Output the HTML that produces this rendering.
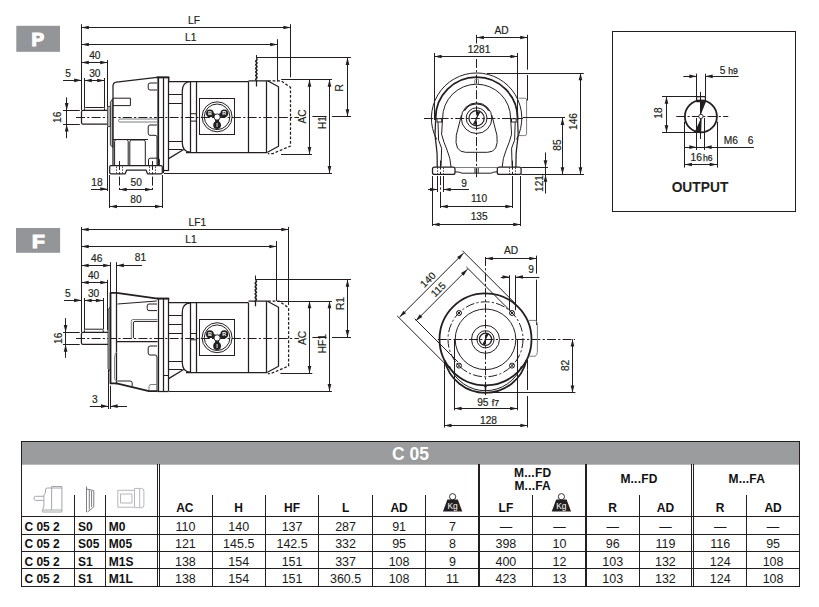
<!DOCTYPE html>
<html lang="en"><head><meta charset="utf-8"><title>C 05 dimensions</title>
<style>
html,body{margin:0;padding:0;background:#fff;}
body{width:819px;height:607px;overflow:hidden;position:relative;font-family:"Liberation Sans",sans-serif;}
svg{position:absolute;left:0;top:0;display:block;}
.t{stroke:#231f20;stroke-width:1;fill:none;}
.o{stroke:#231f20;stroke-width:1.25;fill:none;stroke-linejoin:round;}
.k{stroke:#231f20;stroke-width:1.8;fill:none;stroke-linejoin:round;}
.g{stroke:#7b7d80;stroke-width:1;fill:none;}
.gl{stroke:#b5b7b9;stroke-width:1;fill:none;}
.c{stroke:#231f20;stroke-width:1;fill:none;stroke-dasharray:9 2.2 2.2 2.2;}
.h{stroke:#231f20;stroke-width:1.25;fill:none;stroke-dasharray:2.8 1.8;}
.w{stroke:#231f20;stroke-width:1.6;fill:none;}
.hs{stroke:#231f20;stroke-width:.8;fill:none;stroke-dasharray:1.6 1.2;}
.ar{fill:#231f20;stroke:none;}
.bk{fill:#231f20;stroke:none;}
.wf{fill:#fff;stroke:#231f20;stroke-width:.9;}
.gf{fill:#b9bbbd;stroke:#231f20;stroke-width:.8;}
text{font-family:"Liberation Sans",sans-serif;fill:#231f20;}
.d{font-size:10.2px;stroke:#231f20;stroke-width:.18;}
.ds{font-size:8.6px;stroke:#231f20;stroke-width:.25;}
.lab{font-size:18px;font-weight:bold;fill:#fff;stroke:#fff;stroke-width:1.2;stroke-linejoin:miter;}
.outp{font-size:13.8px;font-weight:bold;fill:#231f20;}
.tb{font-size:12px;font-weight:bold;fill:#111;}
.tr{font-size:12.5px;fill:#1a1a1a;}
.g2{stroke:#9a9c9e;stroke-width:.9;fill:none;}
.g3{stroke:#6d6e70;stroke-width:.9;fill:none;}
.ttl{font-size:17.5px;font-weight:bold;fill:#fff;}
.kg{font-size:8.4px;fill:#fff;}
.sp{letter-spacing:.2px;}
.wl{font-size:5.4px;fill:#fff;font-weight:bold;}
</style></head>
<body>
<svg width="819" height="607" viewBox="0 0 819 607">
<!-- ===== P version: side view ===== -->
<g id="p-side">
<rect x="16.3" y="25.8" width="43.7" height="26" fill="#939598"/>
<text class="lab" text-anchor="middle" transform="translate(37.8 45.7) scale(1.05 1)">P</text>
<line class="t" x1="81.50" y1="24.20" x2="81.50" y2="110.00"/>
<line class="t" x1="81.50" y1="27.50" x2="290.70" y2="27.50"/>
<polygon class="ar" points="81.50,27.50 88.80,25.65 88.80,29.35"/>
<polygon class="ar" points="290.70,27.50 283.40,29.35 283.40,25.65"/>
<text class="d" x="194" y="23.8" text-anchor="middle">LF</text>
<line class="t" x1="81.50" y1="44.50" x2="277.50" y2="44.50"/>
<polygon class="ar" points="81.50,44.50 88.80,42.65 88.80,46.35"/>
<polygon class="ar" points="277.50,44.50 270.20,46.35 270.20,42.65"/>
<text class="d" x="190.7" y="40.9" text-anchor="middle">L1</text>
<line class="t" x1="290.50" y1="24.20" x2="290.50" y2="77.30"/>
<line class="t" x1="277.50" y1="39.20" x2="277.50" y2="81.50"/>
<line class="t" x1="81.50" y1="62.50" x2="107.50" y2="62.50"/>
<polygon class="ar" points="81.50,62.50 88.80,60.65 88.80,64.35"/>
<polygon class="ar" points="107.50,62.50 100.20,64.35 100.20,60.65"/>
<text class="d" x="94.8" y="58.8" text-anchor="middle">40</text>
<line class="t" x1="107.50" y1="60.00" x2="107.50" y2="107.00"/>
<line class="t" x1="63.00" y1="80.50" x2="81.50" y2="80.50"/>
<polygon class="ar" points="81.50,80.30 74.20,82.15 74.20,78.45"/>
<line class="t" x1="84.50" y1="80.50" x2="104.50" y2="80.50"/>
<polygon class="ar" points="84.50,80.50 91.80,78.65 91.80,82.35"/>
<polygon class="ar" points="104.50,80.50 97.20,82.35 97.20,78.65"/>
<text class="d" x="94.8" y="76.6" text-anchor="middle">30</text>
<text class="d" x="68" y="76.6" text-anchor="middle">5</text>
<line class="t" x1="84.50" y1="78.00" x2="84.50" y2="107.80"/>
<line class="t" x1="104.50" y1="78.00" x2="104.50" y2="107.80"/>
<line class="t" x1="63.00" y1="110.50" x2="79.80" y2="110.50"/>
<line class="t" x1="63.00" y1="124.50" x2="79.80" y2="124.50"/>
<line class="t" x1="66.50" y1="97.40" x2="66.50" y2="138.20"/>
<polygon class="ar" points="66.70,110.40 64.85,103.10 68.55,103.10"/>
<polygon class="ar" points="66.70,124.20 68.55,131.50 64.85,131.50"/>
<text class="d" x="60.6" y="117.3" text-anchor="middle" transform="rotate(-90 60.6 117.3)">16</text>
<line class="c" x1="76.00" y1="117.50" x2="299.00" y2="117.50"/>
<path class="o" d="M107.5,110.4 H83 Q81.5,110.4 81.5,112 V122.6 Q81.5,124.2 83,124.2 H107.5"/>
<path class="t" d="M84.5,110.4 V108.5 Q84.5,107.5 85.5,107.5 H103.5 Q104.5,107.5 104.5,108.5 V110.4"/>
<path class="gf" d="M107.6,106.4 H110.6 V126.6 H107.6 Z"/>
<path class="gf" d="M110.4,102 L112.8,98.5 V147.5 L110.4,145 Z"/>
<path class="o" d="M113,165.6 V86 Q113,82.6 116.5,82.2 L157,77.4 H168.7 V81.5"/>
<line class="g" x1="157.50" y1="77.40" x2="157.50" y2="165.60"/>
<line class="o" x1="158.50" y1="77.40" x2="158.50" y2="165.60"/>
<line class="o" x1="163.50" y1="77.20" x2="163.50" y2="173.00"/>
<line class="o" x1="168.50" y1="77.20" x2="168.50" y2="170.80"/>
<line class="o" x1="163.60" y1="170.50" x2="168.70" y2="170.50"/>
<line x1="156.6" y1="77.4" x2="169.3" y2="77.4" stroke="#231f20" stroke-width="1.9"/>
<path class="t" d="M157,83 H150 Q148.2,83 148.2,85 V88 Q148.2,90 150,90 H157"/>
<path class="t" d="M113,98.2 H130.4 V105.6 H113"/>
<path class="g" d="M157,119 H120 Q118.5,119 118.5,120.5 Q118.5,122 120,122 H157"/>
<path class="t" d="M157,125 H150 Q148.2,125 148.2,127 V133.3 Q148.2,135.3 150,135.3 H155 Q157,135.3 157,137 V165"/>
<line class="t" x1="113.00" y1="139.50" x2="148.00" y2="139.50"/>
<path class="t" d="M114.6,165.6 V141.5 Q114.6,139.6 116.5,139.6 H126.2 Q128.2,139.6 128.2,141.5 V165.6"/>
<path class="t" d="M129.8,165.6 V142 Q129.8,140 131.8,140 H143.3 Q145.3,140 145.3,142 V165.6"/>
<path class="t" d="M148.5,165.6 V160 Q148.5,158.2 150.3,158.2 H157.6 Q159.4,158.2 159.4,160 V165.6"/>
<path class="o" d="M109.7,167 Q109.7,165.6 111,165.6 H161 Q162.3,165.6 162.3,167 V172.5 Q162.3,173.8 161,173.8 H147.5 L146,170 H126.7 L125.2,173.8 H111 Q109.7,173.8 109.7,172.5 Z"/>
<line class="c" x1="119.50" y1="161.00" x2="119.50" y2="190.50"/>
<line class="hs" x1="116.50" y1="166.50" x2="116.50" y2="173.20"/>
<line class="hs" x1="122.50" y1="166.50" x2="122.50" y2="173.20"/>
<line class="c" x1="152.50" y1="161.00" x2="152.50" y2="190.50"/>
<line class="hs" x1="149.50" y1="166.50" x2="149.50" y2="173.20"/>
<line class="hs" x1="155.50" y1="166.50" x2="155.50" y2="173.20"/>
<line class="t" x1="107.50" y1="127.00" x2="107.50" y2="191.00"/>
<line class="t" x1="91.00" y1="189.50" x2="107.50" y2="189.50"/>
<polygon class="ar" points="107.50,189.00 100.20,190.85 100.20,187.15"/>
<line class="t" x1="119.30" y1="189.50" x2="152.40" y2="189.50"/>
<polygon class="ar" points="119.30,189.50 126.60,187.65 126.60,191.35"/>
<polygon class="ar" points="152.40,189.50 145.10,191.35 145.10,187.65"/>
<text class="d" x="97" y="186" text-anchor="middle">18</text>
<text class="d" x="136.2" y="186" text-anchor="middle">50</text>
<line class="t" x1="109.50" y1="175.00" x2="109.50" y2="208.00"/>
<line class="t" x1="162.50" y1="175.00" x2="162.50" y2="208.00"/>
<line class="t" x1="109.70" y1="206.50" x2="162.30" y2="206.50"/>
<polygon class="ar" points="109.70,206.50 117.00,204.65 117.00,208.35"/>
<polygon class="ar" points="162.30,206.50 155.00,208.35 155.00,204.65"/>
<text class="d" x="136" y="203.1" text-anchor="middle">80</text>
<line class="o" x1="168.70" y1="81.50" x2="248.50" y2="81.50"/>
<line class="o" x1="186.00" y1="152.50" x2="267.50" y2="152.50"/>
<line class="t" x1="168.70" y1="94.50" x2="182.00" y2="94.50"/>
<line class="t" x1="168.70" y1="103.50" x2="182.00" y2="103.50"/>
<line class="t" x1="168.70" y1="141.50" x2="182.00" y2="141.50"/>
<line class="t" x1="168.70" y1="149.50" x2="182.00" y2="149.50"/>
<path class="o" d="M190.5,81.5 Q182.3,82.0 182.3,91.0 V142.7 Q182.3,151.7 190.5,152.2"/>
<line class="o" x1="190.50" y1="81.50" x2="190.50" y2="152.20"/>
<line class="o" x1="196.50" y1="81.50" x2="196.50" y2="152.20"/>
<rect class="t" x="190.5" y="113.7" width="5.9" height="7.4"/>
<rect class="t" x="199.5" y="98.5" width="35" height="36"/>
<circle class="t" cx="217.1" cy="116.8" r="15"/>
<circle class="t" cx="217.1" cy="116.8" r="12.8"/>
<line x1="217.1" y1="117.0" x2="209.9" y2="113.3" stroke="#231f20" stroke-width="4"/>
<circle class="bk" cx="209.9" cy="113.3" r="3.9"/>
<text class="wl" x="209.9" y="115.2" text-anchor="middle">B</text>
<line x1="217.1" y1="117.0" x2="224.3" y2="113.3" stroke="#231f20" stroke-width="4"/>
<circle class="bk" cx="224.3" cy="113.3" r="3.9"/>
<text class="wl" x="224.3" y="115.2" text-anchor="middle">R</text>
<line x1="217.1" y1="117.0" x2="217.1" y2="125.1" stroke="#231f20" stroke-width="4"/>
<circle class="bk" cx="217.1" cy="125.1" r="3.9"/>
<text class="wl" x="217.1" y="127.0" text-anchor="middle">I</text>
<circle class="wf" cx="217.1" cy="117.0" r="3.1"/>
<line class="o" x1="168.70" y1="158.60" x2="184.00" y2="149.20"/>
<line class="o" x1="248.50" y1="81.50" x2="248.50" y2="152.20"/>
<path class="o" d="M248.5,80.8 H267.5 L278.5,86.8 V146.2 L267.5,152.2"/>
<line class="o" x1="266.50" y1="80.80" x2="266.50" y2="152.20"/>
<path class="h" d="M268,80.8 H281.0 L290.5,87.39999999999999 V146.0 L273.0,153.5 H268"/>
<line class="t" x1="256.50" y1="55.00" x2="256.50" y2="58.50"/>
<path class="w" d="M256.4,58.5 q1.2,0.9 0,1.8 q-1.2,0.9 0,1.8 q1.2,0.9 0,1.8 q-1.2,0.9 0,1.8 q1.2,0.9 0,1.8 q-1.2,0.9 0,1.8 q1.2,0.9 0,1.8 q-1.2,0.9 0,1.8 q1.2,0.9 0,1.8 q-1.2,0.9 0,1.8 q1.2,0.9 0,1.8 q-1.2,0.9 0,1.8"/>
<line class="o" x1="256.50" y1="80.00" x2="256.50" y2="86.50"/>
<line class="t" x1="256.40" y1="57.50" x2="351.00" y2="57.50"/>
<line class="t" x1="281.20" y1="79.50" x2="332.00" y2="79.50"/>
<line class="t" x1="281.00" y1="154.50" x2="312.00" y2="154.50"/>
<line class="t" x1="309.50" y1="79.50" x2="309.50" y2="154.30"/>
<polygon class="ar" points="309.50,79.50 311.35,86.80 307.65,86.80"/>
<polygon class="ar" points="309.50,154.30 307.65,147.00 311.35,147.00"/>
<text class="d" x="305.8" y="116.5" text-anchor="middle" transform="rotate(-90 305.8 116.5)">AC</text>
<line class="t" x1="164.00" y1="173.50" x2="332.00" y2="173.50"/>
<line class="t" x1="329.50" y1="79.50" x2="329.50" y2="173.20"/>
<polygon class="ar" points="329.50,79.50 331.35,86.80 327.65,86.80"/>
<polygon class="ar" points="329.50,173.20 327.65,165.90 331.35,165.90"/>
<text class="d" x="326" y="122.5" text-anchor="middle" transform="rotate(-90 326 122.5)">H1</text>
<line class="t" x1="312.40" y1="116.50" x2="326.50" y2="116.50"/>
<line class="t" x1="332.00" y1="116.50" x2="351.00" y2="116.50"/>
<line class="t" x1="347.50" y1="57.60" x2="347.50" y2="116.50"/>
<polygon class="ar" points="347.50,57.60 349.35,64.90 345.65,64.90"/>
<polygon class="ar" points="347.50,116.50 345.65,109.20 349.35,109.20"/>
<text class="d" x="343.3" y="87.7" text-anchor="middle" transform="rotate(-90 343.3 87.7)">R</text>
</g>
<!-- ===== P version: front view ===== -->
<g id="p-front">
<line class="t" x1="476.50" y1="34.80" x2="476.50" y2="43.50"/>
<line class="c" x1="476.50" y1="59.00" x2="476.50" y2="178.00"/>
<line class="c" x1="424.00" y1="118.50" x2="523.00" y2="118.50"/>
<line class="t" x1="476.60" y1="37.50" x2="527.50" y2="37.50"/>
<polygon class="ar" points="476.60,37.50 483.90,35.65 483.90,39.35"/>
<polygon class="ar" points="527.50,37.50 520.20,39.35 520.20,35.65"/>
<text class="d" x="501.5" y="33.6" text-anchor="middle">AD</text>
<line class="t" x1="527.50" y1="34.80" x2="527.50" y2="69.70"/>
<line class="t" x1="527.50" y1="75.00" x2="527.50" y2="100.50"/>
<line class="t" x1="434.30" y1="56.50" x2="517.70" y2="56.50"/>
<polygon class="ar" points="434.30,56.50 441.60,54.65 441.60,58.35"/>
<polygon class="ar" points="517.70,56.50 510.40,58.35 510.40,54.65"/>
<text class="d" x="479" y="52.6" text-anchor="middle">1281</text>
<line class="t" x1="434.50" y1="53.00" x2="434.50" y2="120.00"/>
<line class="t" x1="517.50" y1="53.00" x2="517.50" y2="120.00"/>
<path class="t" d="M516.5,139.4 A45.2,45.2 0 1 0 436.7,139.4"/>
<path class="k" d="M517.6,120.2 V118.2 A41,41 0 1 0 435.6,118.2 V120.2"/>
<path class="o" d="M435.6,120.2 L435.0,135.2 Q436.6,148.2 437.1,154.2 L437.3,167.2"/>
<path class="o" d="M517.6,120.2 L518.2,135.2 Q516.6,148.2 516.1,154.2 L515.9,167.2"/>
<path class="t" d="M510.6,118.2 A34,34 0 1 0 442.6,118.2"/>
<path class="t" d="M442.6,118.2 L441.6,134.2 Q443.6,142.2 447.1,150.2 Q450.6,158.2 451.0,167.0"/>
<path class="t" d="M510.6,118.2 L511.6,134.2 Q509.6,142.2 506.1,150.2 Q502.6,158.2 502.20000000000005,167.0"/>
<path class="t" d="M438.0,122.2 L438.6,140.2 L441.6,148.2 L441.1,166.2"/>
<path class="t" d="M515.2,122.2 L514.6,140.2 L511.6,148.2 L512.1,166.2"/>
<rect class="t" x="437.0" y="118.7" width="4.7" height="3.3"/>
<rect class="t" x="511.5" y="118.7" width="4.7" height="3.3"/>
<path class="g" d="M474.8,84.4 V80.2 Q474.8,79.2 475.8,79.2 H477.5 Q478.5,79.2 478.5,80.2 V84.4"/>
<path class="t" d="M461.40000000000003,115.2 L456.3,135.2 Q454.1,152.2 465.6,152.3 H487.6 Q499.1,152.2 496.90000000000003,135.2 L491.8,115.2"/>
<circle class="t" cx="476.6" cy="118.2" r="15.3"/>
<path class="o" d="M464.40000000000003,110.60000000000001 A14.4,14.4 0 0 1 488.8,110.60000000000001"/>
<circle class="t" cx="476.6" cy="118.2" r="10.4"/>
<circle class="o" cx="476.6" cy="118.2" r="7.6"/>
<path class="bk" d="M476.6,118.2 L479.8,112.10000000000001 L476.8,111.3 Z"/>
<path class="bk" d="M476.6,118.2 L473.40000000000003,124.3 L476.40000000000003,125.10000000000001 Z"/>
<line class="t" x1="473.20" y1="124.60" x2="480.00" y2="111.80"/>
<path class="g" d="M518.5,98.2 H524.8 Q526.6,98.2 526.6,100 V133.8 Q526.6,135.6 524.8,135.6 H519"/>
<rect class="o" x="432.5" y="167" width="22.5" height="7.4" rx="2" ry="2"/>
<rect class="o" x="497.3" y="167" width="23.8" height="7.4" rx="2" ry="2"/>
<line class="g" x1="455.00" y1="167.50" x2="497.30" y2="167.50"/>
<path class="t" d="M455,171.8 Q459.5,171.8 462,173.2 H491 Q493.5,171.8 497.3,171.8"/>
<path class="t" d="M475.0,168 V173 M478.20000000000005,168 V173"/>
<line class="c" x1="440.50" y1="160.60" x2="440.50" y2="206.30"/>
<line class="hs" x1="437.50" y1="167.50" x2="437.50" y2="174.00"/>
<line class="hs" x1="443.50" y1="167.50" x2="443.50" y2="174.00"/>
<line class="c" x1="512.50" y1="160.60" x2="512.50" y2="206.30"/>
<line class="hs" x1="509.50" y1="167.50" x2="509.50" y2="174.00"/>
<line class="hs" x1="515.50" y1="167.50" x2="515.50" y2="174.00"/>
<line class="t" x1="437.50" y1="176.00" x2="437.50" y2="192.00"/>
<line class="t" x1="443.50" y1="176.00" x2="443.50" y2="192.00"/>
<line class="t" x1="428.00" y1="189.50" x2="437.40" y2="189.50"/>
<polygon class="ar" points="437.40,189.50 430.10,191.35 430.10,187.65"/>
<line class="t" x1="443.40" y1="189.50" x2="469.00" y2="189.50"/>
<polygon class="ar" points="443.40,189.50 450.70,187.65 450.70,191.35"/>
<text class="d" x="464" y="186.6" text-anchor="middle">9</text>
<line class="t" x1="440.50" y1="206.50" x2="512.60" y2="206.50"/>
<polygon class="ar" points="440.50,206.50 447.80,204.65 447.80,208.35"/>
<polygon class="ar" points="512.60,206.50 505.30,208.35 505.30,204.65"/>
<text class="d" x="479" y="201.7" text-anchor="middle">110</text>
<line class="t" x1="440.50" y1="192.00" x2="440.50" y2="208.00"/>
<line class="t" x1="512.50" y1="176.00" x2="512.50" y2="208.00"/>
<line class="t" x1="432.50" y1="176.00" x2="432.50" y2="226.00"/>
<line class="t" x1="520.50" y1="176.00" x2="520.50" y2="226.00"/>
<line class="t" x1="432.30" y1="224.50" x2="520.50" y2="224.50"/>
<polygon class="ar" points="432.30,224.50 439.60,222.65 439.60,226.35"/>
<polygon class="ar" points="520.50,224.50 513.20,226.35 513.20,222.65"/>
<text class="d" x="479.2" y="219.8" text-anchor="middle">135</text>
<line class="t" x1="487.00" y1="73.50" x2="583.80" y2="73.50"/>
<line class="t" x1="523.00" y1="117.50" x2="565.00" y2="117.50"/>
<line class="t" x1="521.30" y1="167.50" x2="548.00" y2="167.50"/>
<line class="t" x1="521.30" y1="174.50" x2="584.00" y2="174.50"/>
<line class="t" x1="580.50" y1="73.00" x2="580.50" y2="174.50"/>
<polygon class="ar" points="580.50,73.00 582.35,80.30 578.65,80.30"/>
<polygon class="ar" points="580.50,174.50 578.65,167.20 582.35,167.20"/>
<text class="d" x="577" y="121.5" text-anchor="middle" transform="rotate(-90 577 121.5)">146</text>
<line class="t" x1="562.50" y1="117.80" x2="562.50" y2="174.50"/>
<polygon class="ar" points="562.50,117.80 564.35,125.10 560.65,125.10"/>
<polygon class="ar" points="562.50,174.50 560.65,167.20 564.35,167.20"/>
<text class="d" x="560.6" y="145" text-anchor="middle" transform="rotate(-90 560.6 145)">85</text>
<line class="t" x1="545.50" y1="152.40" x2="545.50" y2="193.50"/>
<polygon class="ar" points="545.50,167.60 543.65,160.30 547.35,160.30"/>
<polygon class="ar" points="545.50,174.50 547.35,181.80 543.65,181.80"/>
<text class="d" x="542.6" y="183.5" text-anchor="middle" transform="rotate(-90 542.6 183.5)">121</text>
</g>
<!-- ===== F version: side view ===== -->
<g id="f-side">
<rect x="16" y="228" width="44.1" height="24.8" fill="#939598"/>
<text class="lab" text-anchor="middle" transform="translate(38.3 247.8) scale(1.16 1)">F</text>
<line class="t" x1="81.50" y1="226.90" x2="81.50" y2="332.00"/>
<line class="t" x1="81.40" y1="229.50" x2="288.60" y2="229.50"/>
<polygon class="ar" points="81.40,229.50 88.70,227.65 88.70,231.35"/>
<polygon class="ar" points="288.60,229.50 281.30,231.35 281.30,227.65"/>
<text class="d" x="197.3" y="225.8" text-anchor="middle">LF1</text>
<line class="t" x1="81.40" y1="246.50" x2="276.60" y2="246.50"/>
<polygon class="ar" points="81.40,246.50 88.70,244.65 88.70,248.35"/>
<polygon class="ar" points="276.60,246.50 269.30,248.35 269.30,244.65"/>
<text class="d" x="190.9" y="243.1" text-anchor="middle">L1</text>
<line class="t" x1="288.50" y1="226.90" x2="288.50" y2="305.00"/>
<line class="t" x1="276.50" y1="241.00" x2="276.50" y2="301.00"/>
<line class="t" x1="81.40" y1="265.50" x2="110.50" y2="265.50"/>
<polygon class="ar" points="81.40,265.50 88.70,263.65 88.70,267.35"/>
<polygon class="ar" points="110.50,265.50 103.20,267.35 103.20,263.65"/>
<text class="d" x="96.7" y="261.7" text-anchor="middle">46</text>
<line class="t" x1="110.50" y1="262.20" x2="110.50" y2="293.00"/>
<line class="t" x1="116.50" y1="262.20" x2="116.50" y2="300.00"/>
<line class="t" x1="116.60" y1="265.50" x2="142.00" y2="265.50"/>
<polygon class="ar" points="116.60,265.40 123.90,263.55 123.90,267.25"/>
<text class="d" x="140.5" y="261.4" text-anchor="middle">81</text>
<line class="t" x1="81.40" y1="282.50" x2="107.70" y2="282.50"/>
<polygon class="ar" points="81.40,282.50 88.70,280.65 88.70,284.35"/>
<polygon class="ar" points="107.70,282.50 100.40,284.35 100.40,280.65"/>
<text class="d" x="93.6" y="278.8" text-anchor="middle">40</text>
<line class="t" x1="107.50" y1="279.80" x2="107.50" y2="330.00"/>
<line class="t" x1="64.00" y1="300.50" x2="81.40" y2="300.50"/>
<polygon class="ar" points="81.40,300.30 74.10,302.15 74.10,298.45"/>
<line class="t" x1="84.40" y1="300.50" x2="103.20" y2="300.50"/>
<polygon class="ar" points="84.40,300.50 91.70,298.65 91.70,302.35"/>
<polygon class="ar" points="103.20,300.50 95.90,302.35 95.90,298.65"/>
<text class="d" x="93.6" y="296.6" text-anchor="middle">30</text>
<text class="d" x="67.8" y="296.6" text-anchor="middle">5</text>
<line class="t" x1="84.50" y1="298.00" x2="84.50" y2="329.30"/>
<line class="t" x1="103.50" y1="298.00" x2="103.50" y2="329.30"/>
<line class="t" x1="63.00" y1="332.50" x2="79.70" y2="332.50"/>
<line class="t" x1="63.00" y1="344.50" x2="79.70" y2="344.50"/>
<line class="t" x1="65.50" y1="318.20" x2="65.50" y2="357.80"/>
<polygon class="ar" points="65.60,332.30 63.75,325.00 67.45,325.00"/>
<polygon class="ar" points="65.60,344.40 67.45,351.70 63.75,351.70"/>
<text class="d" x="61.6" y="338.2" text-anchor="middle" transform="rotate(-90 61.6 338.2)">16</text>
<line class="c" x1="76.00" y1="338.50" x2="299.00" y2="338.50"/>
<path class="o" d="M108,332.3 H83 Q81.4,332.3 81.4,334 V342.8 Q81.4,344.4 83,344.4 H108"/>
<path class="t" d="M84.4,332.3 V330.2 Q84.4,329.2 85.4,329.2 H102.2 Q103.2,329.2 103.2,330.2 V332.3"/>
<path class="gf" d="M108,310 L110.4,306.5 V371 L108,369 Z"/>
<path class="k" d="M157.7,298.7 L116.6,292.8 H110.5 V383.4 H116.6 L149,391.2 H157.7"/>
<line class="o" x1="116.50" y1="294.00" x2="116.50" y2="384.40"/>
<line class="o" x1="157.70" y1="298.50" x2="168.70" y2="298.50"/>
<line class="o" x1="157.70" y1="391.50" x2="168.70" y2="391.50"/>
<line class="o" x1="158.50" y1="298.70" x2="158.50" y2="391.00"/>
<line class="o" x1="163.50" y1="298.70" x2="163.50" y2="391.00"/>
<line class="o" x1="168.50" y1="298.70" x2="168.50" y2="391.00"/>
<line class="t" x1="163.60" y1="375.50" x2="168.70" y2="375.50"/>
<line x1="157" y1="298.6" x2="169.3" y2="298.6" stroke="#231f20" stroke-width="1.9"/>
<path class="t" d="M117.5,304 L156.8,301"/>
<path class="t" d="M157,304 H149 Q147.2,304 147.2,306 V308.6 Q147.2,310.6 149,310.6 H157"/>
<path class="g" d="M157.5,319.5 H133 Q131.3,319.5 131.3,321.2 V338"/>
<path class="t" d="M157.5,321.4 H135 Q133.4,321.4 133.4,323 V338"/>
<line class="o" x1="116.60" y1="341.50" x2="157.50" y2="341.50"/>
<path class="t" d="M157,346 H150 Q148.2,346 148.2,348 V353 Q148.2,355 150,355 H155 Q157,355 157,357 V391"/>
<path class="g" d="M116.6,352 Q114.6,354 114.6,358 V378 Q114.6,380.8 117.4,381.4"/>
<path class="t" d="M117.6,381 H130 Q132.2,381 132.2,383 V386.4"/>
<path class="g" d="M157.5,384.5 H151 Q149,384.5 149,386.5 V390"/>
<line class="t" x1="108.50" y1="370.00" x2="108.50" y2="409.00"/>
<line class="t" x1="110.50" y1="385.70" x2="110.50" y2="409.00"/>
<line class="t" x1="89.80" y1="406.50" x2="108.30" y2="406.50"/>
<polygon class="ar" points="108.30,406.20 101.00,408.05 101.00,404.35"/>
<line class="t" x1="110.40" y1="406.50" x2="127.00" y2="406.50"/>
<polygon class="ar" points="110.40,406.20 117.70,404.35 117.70,408.05"/>
<text class="d" x="94.9" y="402.5" text-anchor="middle">3</text>
<line class="o" x1="168.70" y1="302.50" x2="248.50" y2="302.50"/>
<line class="o" x1="186.00" y1="372.50" x2="267.50" y2="372.50"/>
<line class="t" x1="168.70" y1="315.50" x2="182.00" y2="315.50"/>
<line class="t" x1="168.70" y1="324.50" x2="182.00" y2="324.50"/>
<line class="t" x1="168.70" y1="333.50" x2="182.00" y2="333.50"/>
<line class="t" x1="168.70" y1="361.50" x2="182.00" y2="361.50"/>
<line class="t" x1="168.70" y1="369.50" x2="182.00" y2="369.50"/>
<path class="o" d="M190.5,302.8 Q182.3,303.3 182.3,312.3 V362.7 Q182.3,371.7 190.5,372.2"/>
<line class="o" x1="190.50" y1="302.80" x2="190.50" y2="372.20"/>
<line class="o" x1="196.50" y1="302.80" x2="196.50" y2="372.20"/>
<rect class="t" x="190.5" y="333.5" width="5.9" height="6.300000000000001"/>
<rect class="t" x="199.5" y="319.5" width="35" height="36"/>
<circle class="t" cx="217.1" cy="337.7" r="15"/>
<circle class="t" cx="217.1" cy="337.7" r="12.8"/>
<line x1="217.1" y1="337.9" x2="209.9" y2="334.2" stroke="#231f20" stroke-width="4"/>
<circle class="bk" cx="209.9" cy="334.2" r="3.9"/>
<text class="wl" x="209.9" y="336.09999999999997" text-anchor="middle">B</text>
<line x1="217.1" y1="337.9" x2="224.3" y2="334.2" stroke="#231f20" stroke-width="4"/>
<circle class="bk" cx="224.3" cy="334.2" r="3.9"/>
<text class="wl" x="224.3" y="336.09999999999997" text-anchor="middle">R</text>
<line x1="217.1" y1="337.9" x2="217.1" y2="346.0" stroke="#231f20" stroke-width="4"/>
<circle class="bk" cx="217.1" cy="346.0" r="3.9"/>
<text class="wl" x="217.1" y="347.9" text-anchor="middle">I</text>
<circle class="wf" cx="217.1" cy="337.9" r="3.1"/>
<line class="o" x1="168.70" y1="378.60" x2="184.00" y2="369.20"/>
<line class="o" x1="248.50" y1="302.80" x2="248.50" y2="372.20"/>
<path class="o" d="M248.5,301.2 H267.5 L278.5,307.2 V366.2 L267.5,372.2"/>
<line class="o" x1="266.50" y1="301.20" x2="266.50" y2="372.20"/>
<path class="h" d="M268,301.2 H279.1 L288.6,307.8 V366.0 L271.1,373.5 H268"/>
<line class="t" x1="255.50" y1="275.50" x2="255.50" y2="280.50"/>
<path class="w" d="M255.8,280.5 q1.2,0.9 0,1.8 q-1.2,0.9 0,1.8 q1.2,0.9 0,1.8 q-1.2,0.9 0,1.8 q1.2,0.9 0,1.8 q-1.2,0.9 0,1.8 q1.2,0.9 0,1.8 q-1.2,0.9 0,1.8 q1.2,0.9 0,1.8 q-1.2,0.9 0,1.8 q1.2,0.9 0,1.8 q-1.2,0.9 0,1.8"/>
<line class="o" x1="255.50" y1="302.00" x2="255.50" y2="306.30"/>
<line class="t" x1="255.80" y1="279.50" x2="351.00" y2="279.50"/>
<line class="t" x1="277.00" y1="301.50" x2="332.00" y2="301.50"/>
<line class="t" x1="280.40" y1="373.50" x2="312.30" y2="373.50"/>
<line class="t" x1="309.50" y1="301.00" x2="309.50" y2="373.30"/>
<polygon class="ar" points="309.50,301.00 311.35,308.30 307.65,308.30"/>
<polygon class="ar" points="309.50,373.30 307.65,366.00 311.35,366.00"/>
<text class="d" x="305.8" y="338" text-anchor="middle" transform="rotate(-90 305.8 338)">AC</text>
<line class="t" x1="169.00" y1="391.50" x2="332.00" y2="391.50"/>
<line class="t" x1="329.50" y1="301.00" x2="329.50" y2="391.30"/>
<polygon class="ar" points="329.50,301.00 331.35,308.30 327.65,308.30"/>
<polygon class="ar" points="329.50,391.30 327.65,384.00 331.35,384.00"/>
<text class="d" x="326.2" y="343.7" text-anchor="middle" transform="rotate(-90 326.2 343.7)">HF1</text>
<line class="t" x1="312.40" y1="337.50" x2="326.50" y2="337.50"/>
<line class="t" x1="332.00" y1="337.50" x2="351.00" y2="337.50"/>
<line class="t" x1="347.50" y1="279.40" x2="347.50" y2="337.40"/>
<polygon class="ar" points="347.50,279.40 349.35,286.70 345.65,286.70"/>
<polygon class="ar" points="347.50,337.40 345.65,330.10 349.35,330.10"/>
<text class="d" x="343.8" y="303.6" text-anchor="middle" transform="rotate(-90 343.8 303.6)">R1</text>
</g>
<!-- ===== F version: front view ===== -->
<g id="f-front">
<line class="c" x1="485.50" y1="257.00" x2="485.50" y2="396.00"/>
<line class="c" x1="437.80" y1="339.50" x2="575.00" y2="339.50"/>
<line class="t" x1="485.50" y1="258.50" x2="536.60" y2="258.50"/>
<polygon class="ar" points="485.50,258.50 492.80,256.65 492.80,260.35"/>
<polygon class="ar" points="536.60,258.50 529.30,260.35 529.30,256.65"/>
<text class="d" x="511" y="254.1" text-anchor="middle">AD</text>
<line class="t" x1="536.50" y1="255.60" x2="536.50" y2="273.60"/>
<line class="t" x1="536.50" y1="279.60" x2="536.50" y2="325.00"/>
<line class="t" x1="509.50" y1="275.20" x2="509.50" y2="310.20"/>
<line class="t" x1="515.50" y1="275.20" x2="515.50" y2="310.20"/>
<line class="t" x1="500.80" y1="277.50" x2="509.80" y2="277.50"/>
<polygon class="ar" points="509.80,277.00 502.50,278.85 502.50,275.15"/>
<line class="t" x1="515.70" y1="277.50" x2="539.40" y2="277.50"/>
<polygon class="ar" points="515.70,277.00 523.00,275.15 523.00,278.85"/>
<text class="d" x="531" y="273.2" text-anchor="middle">9</text>
<line class="t" x1="399.60" y1="317.10" x2="463.60" y2="253.10"/>
<polygon class="ar" points="399.60,317.10 403.45,310.63 406.07,313.25"/>
<polygon class="ar" points="463.60,253.10 459.75,259.57 457.13,256.95"/>
<line class="t" x1="415.90" y1="320.80" x2="467.50" y2="269.20"/>
<polygon class="ar" points="415.90,320.80 419.75,314.33 422.37,316.95"/>
<polygon class="ar" points="467.50,269.20 463.65,275.67 461.03,273.05"/>
<line class="t" x1="462.40" y1="250.70" x2="514.50" y2="302.80"/>
<line class="t" x1="397.20" y1="315.90" x2="449.00" y2="367.70"/>
<line class="t" x1="466.40" y1="267.00" x2="511.00" y2="311.60"/>
<line class="t" x1="414.70" y1="318.70" x2="458.00" y2="362.00"/>
<text class="d" x="430.4" y="282.2" text-anchor="middle" transform="rotate(-45 430.4 282.2)">140</text>
<text class="d" x="440.8" y="292" text-anchor="middle" transform="rotate(-45 440.8 292)">115</text>
<path class="k" d="M444.6,360.4 A42,42 0 0 0 526.4,360.4"/>
<path class="t" d="M449.5,366 A38.6,38.6 0 0 0 521.5,366"/>
<line class="t" x1="444.50" y1="360.00" x2="444.50" y2="369.00"/>
<line class="t" x1="527.50" y1="360.00" x2="527.50" y2="369.00"/>
<circle class="k" cx="485.5" cy="339.3" r="46"/>
<circle class="c" cx="485.5" cy="339.3" r="37.5"/>
<circle class="t" cx="485.5" cy="339.3" r="30.3"/>
<circle class="t" cx="485.5" cy="339.3" r="14"/>
<circle class="t" cx="485.5" cy="339.3" r="8.6"/>
<circle class="o" cx="485.5" cy="339.3" r="6.1"/>
<path class="bk" d="M485.5,339.3 L488.1,334.0 L485.7,333.3 Z"/>
<path class="bk" d="M485.5,339.3 L482.9,344.6 L485.3,345.3 Z"/>
<line class="t" x1="482.70" y1="344.90" x2="488.30" y2="333.70"/>
<circle class="t" cx="459.0" cy="313.0" r="2.5"/>
<line class="t" x1="457.20" y1="311.20" x2="460.80" y2="314.80"/>
<line class="t" x1="457.20" y1="314.80" x2="460.80" y2="311.20"/>
<circle class="t" cx="459.0" cy="365.6" r="2.5"/>
<line class="t" x1="457.20" y1="363.80" x2="460.80" y2="367.40"/>
<line class="t" x1="457.20" y1="367.40" x2="460.80" y2="363.80"/>
<circle class="t" cx="512.0" cy="313.0" r="2.5"/>
<line class="t" x1="510.20" y1="311.20" x2="513.80" y2="314.80"/>
<line class="t" x1="510.20" y1="314.80" x2="513.80" y2="311.20"/>
<circle class="t" cx="512.0" cy="365.6" r="2.5"/>
<line class="t" x1="510.20" y1="363.80" x2="513.80" y2="367.40"/>
<line class="t" x1="510.20" y1="367.40" x2="513.80" y2="363.80"/>
<path class="t" d="M484.1,385.3 Q485.5,386.3 485.5,392.3 M486.9,385.3 Q485.5,386.3 485.5,392.3"/>
<path class="g" d="M528.4,320.4 H535 Q537.4,321 537.4,326 V350 Q537.4,355.6 535,356.2 H528.8"/>
<line class="t" x1="454.50" y1="340.00" x2="454.50" y2="410.30"/>
<line class="t" x1="517.50" y1="340.00" x2="517.50" y2="410.30"/>
<line class="t" x1="454.30" y1="408.50" x2="517.40" y2="408.50"/>
<polygon class="ar" points="454.30,408.50 461.60,406.65 461.60,410.35"/>
<polygon class="ar" points="517.40,408.50 510.10,410.35 510.10,406.65"/>
<text class="d" x="482.8" y="406.3" text-anchor="middle">95</text>
<text class="ds" x="495.4" y="406.3" text-anchor="middle">f7</text>
<line class="t" x1="444.50" y1="369.30" x2="444.50" y2="427.50"/>
<line class="t" x1="527.50" y1="369.30" x2="527.50" y2="390.00"/>
<line class="t" x1="527.50" y1="396.00" x2="527.50" y2="427.50"/>
<line class="t" x1="444.20" y1="425.50" x2="527.60" y2="425.50"/>
<polygon class="ar" points="444.20,425.50 451.50,423.65 451.50,427.35"/>
<polygon class="ar" points="527.60,425.50 520.30,427.35 520.30,423.65"/>
<text class="d" x="488.5" y="423.6" text-anchor="middle">128</text>
<line class="t" x1="485.60" y1="392.50" x2="575.40" y2="392.50"/>
<line class="t" x1="572.50" y1="339.30" x2="572.50" y2="392.70"/>
<polygon class="ar" points="572.50,339.30 574.35,346.60 570.65,346.60"/>
<polygon class="ar" points="572.50,392.70 570.65,385.40 574.35,385.40"/>
<text class="d" x="569.2" y="365.4" text-anchor="middle" transform="rotate(-90 569.2 365.4)">82</text>
</g>
<!-- ===== OUTPUT shaft box ===== -->
<g id="output">
<rect class="t" x="612.5" y="31.5" width="183" height="180"/>
<line class="c" x1="676.30" y1="116.50" x2="728.30" y2="116.50"/>
<line class="t" x1="700.50" y1="91.90" x2="700.50" y2="139.00"/>
<rect class="o" x="696.6" y="96.5" width="8.8" height="5" fill="#fff"/>
<circle class="k" cx="700.9" cy="116.4" r="16"/>
<path class="bk" d="M700.1,116.4 L706.2,100.9 L700.3,100.3 Z"/>
<path class="bk" d="M701.6999999999999,116.4 L695,131.4 L701.2,132.4 Z"/>
<circle class="wf" cx="700.9" cy="116.4" r="2.2"/>
<line class="t" x1="683.30" y1="76.50" x2="696.60" y2="76.50"/>
<polygon class="ar" points="696.60,76.30 689.30,78.15 689.30,74.45"/>
<line class="t" x1="705.40" y1="76.50" x2="738.60" y2="76.50"/>
<polygon class="ar" points="705.40,76.30 712.70,74.45 712.70,78.15"/>
<line class="t" x1="696.50" y1="73.70" x2="696.50" y2="96.50"/>
<line class="t" x1="705.50" y1="73.70" x2="705.50" y2="96.50"/>
<text class="d" x="722.7" y="73.5" text-anchor="middle">5</text>
<text class="ds" x="733" y="73.5" text-anchor="middle">h9</text>
<line class="t" x1="662.00" y1="96.50" x2="696.60" y2="96.50"/>
<line class="t" x1="662.00" y1="132.50" x2="697.00" y2="132.50"/>
<line class="t" x1="666.50" y1="96.50" x2="666.50" y2="132.50"/>
<polygon class="ar" points="666.50,96.50 668.35,103.80 664.65,103.80"/>
<polygon class="ar" points="666.50,132.50 664.65,125.20 668.35,125.20"/>
<text class="d" x="662.4" y="113" text-anchor="middle" transform="rotate(-90 662.4 113)">18</text>
<line class="t" x1="684.60" y1="147.50" x2="753.90" y2="147.50"/>
<polygon class="ar" points="696.60,147.20 689.30,149.05 689.30,145.35"/>
<polygon class="ar" points="704.40,147.20 711.70,145.35 711.70,149.05"/>
<line class="t" x1="696.50" y1="118.00" x2="696.50" y2="150.00"/>
<line class="t" x1="704.50" y1="118.00" x2="704.50" y2="150.00"/>
<text class="d" x="730.8" y="144.2" text-anchor="middle">M6</text>
<text class="d" x="750.7" y="144.2" text-anchor="middle">6</text>
<line class="t" x1="684.50" y1="121.60" x2="684.50" y2="167.60"/>
<line class="t" x1="717.50" y1="121.60" x2="717.50" y2="167.60"/>
<line class="t" x1="684.60" y1="164.50" x2="717.00" y2="164.50"/>
<polygon class="ar" points="684.60,164.50 691.90,162.65 691.90,166.35"/>
<polygon class="ar" points="717.00,164.50 709.70,166.35 709.70,162.65"/>
<text class="d" x="696.2" y="160.7" text-anchor="middle">16</text>
<text class="ds" x="707.8" y="160.7" text-anchor="middle">h6</text>
<text class="outp" x="700" y="191.8" text-anchor="middle">OUTPUT</text>
</g>
<!-- ===== Table ===== -->
<g id="table">
<rect x="21" y="441" width="779" height="23.7" fill="#9b9c9e"/>
<text class="ttl" x="410.5" y="459.5" text-anchor="middle">C 05</text>
<line x1="21" y1="441.5" x2="800" y2="441.5" stroke="#231f20" stroke-width="1"/>
<line x1="21" y1="586.5" x2="800" y2="586.5" stroke="#231f20" stroke-width="1"/>
<line x1="21.5" y1="441" x2="21.5" y2="587" stroke="#231f20" stroke-width="1"/>
<line x1="799.5" y1="441" x2="799.5" y2="587" stroke="#231f20" stroke-width="1"/>
<line x1="21" y1="516.5" x2="800" y2="516.5" stroke="#231f20" stroke-width="1"/>
<line x1="21" y1="534.5" x2="800" y2="534.5" stroke="#231f20" stroke-width="1"/>
<line x1="21" y1="551.5" x2="800" y2="551.5" stroke="#231f20" stroke-width="1"/>
<line x1="21" y1="568.5" x2="800" y2="568.5" stroke="#231f20" stroke-width="1"/>
<line x1="74.5" y1="495" x2="74.5" y2="586.5" stroke="#231f20" stroke-width="1"/>
<line x1="105.5" y1="495" x2="105.5" y2="586.5" stroke="#231f20" stroke-width="1"/>
<line x1="212.5" y1="495" x2="212.5" y2="586.5" stroke="#231f20" stroke-width="1"/>
<line x1="265.5" y1="495" x2="265.5" y2="586.5" stroke="#231f20" stroke-width="1"/>
<line x1="318.5" y1="495" x2="318.5" y2="586.5" stroke="#231f20" stroke-width="1"/>
<line x1="372.5" y1="495" x2="372.5" y2="586.5" stroke="#231f20" stroke-width="1"/>
<line x1="425.5" y1="495" x2="425.5" y2="586.5" stroke="#231f20" stroke-width="1"/>
<line x1="532.5" y1="495" x2="532.5" y2="586.5" stroke="#231f20" stroke-width="1"/>
<line x1="639.5" y1="495" x2="639.5" y2="586.5" stroke="#231f20" stroke-width="1"/>
<line x1="746.5" y1="495" x2="746.5" y2="586.5" stroke="#231f20" stroke-width="1"/>
<line x1="157.5" y1="464" x2="157.5" y2="586.5" stroke="#231f20" stroke-width="1"/>
<line x1="159.5" y1="464" x2="159.5" y2="586.5" stroke="#231f20" stroke-width="1"/>
<line x1="691.5" y1="464" x2="691.5" y2="586.5" stroke="#231f20" stroke-width="1"/>
<line x1="693.5" y1="464" x2="693.5" y2="586.5" stroke="#231f20" stroke-width="1"/>
<line x1="479" y1="464" x2="479" y2="586.5" stroke="#231f20" stroke-width="2"/>
<line x1="586" y1="464" x2="586" y2="586.5" stroke="#231f20" stroke-width="2"/>
<text class="tb" x="184.8" y="511.7" text-anchor="middle">AC</text>
<text class="tb" x="238.7" y="511.7" text-anchor="middle">H</text>
<text class="tb" x="292.1" y="511.7" text-anchor="middle">HF</text>
<text class="tb" x="345.6" y="511.7" text-anchor="middle">L</text>
<text class="tb" x="399.1" y="511.7" text-anchor="middle">AD</text>
<circle cx="452.6" cy="496.7" r="3.1" fill="#fff" stroke="#231f20" stroke-width="0.9"/>
<path d="M447.40000000000003,499.5 H457.8 L462.3,511.6 H442.90000000000003 Z" fill="#231f20"/>
<text class="kg" x="452.6" y="509.3" text-anchor="middle">Kg</text>
<text class="tb" x="505.9" y="511.7" text-anchor="middle">LF</text>
<circle cx="561.4" cy="496.7" r="3.1" fill="#fff" stroke="#231f20" stroke-width="0.9"/>
<path d="M556.1999999999999,499.5 H566.6 L571.1,511.6 H551.6999999999999 Z" fill="#231f20"/>
<text class="kg" x="561.4" y="509.3" text-anchor="middle">Kg</text>
<text class="tb" x="612.7" y="511.7" text-anchor="middle">R</text>
<text class="tb" x="665.4" y="511.7" text-anchor="middle">AD</text>
<text class="tb" x="720.2" y="511.7" text-anchor="middle">R</text>
<text class="tb" x="773.1" y="511.7" text-anchor="middle">AD</text>
<text class="tb sp" x="532.7" y="476.8" text-anchor="middle">M...FD</text>
<text class="tb sp" x="532.7" y="490.1" text-anchor="middle">M...FA</text>
<text class="tb sp" x="639" y="482.9" text-anchor="middle">M...FD</text>
<text class="tb sp" x="746.8" y="482.9" text-anchor="middle">M...FA</text>
<text class="tb" x="24.4" y="531.3" text-anchor="start">C 05 2</text>
<text class="tb" x="78.1" y="531.3" text-anchor="start">S0</text>
<text class="tb" x="108.8" y="531.3" text-anchor="start">M0</text>
<text class="tr" x="185.4" y="531.3" text-anchor="middle">110</text>
<text class="tr" x="238.7" y="531.3" text-anchor="middle">140</text>
<text class="tr" x="292.1" y="531.3" text-anchor="middle">137</text>
<text class="tr" x="345.6" y="531.3" text-anchor="middle">287</text>
<text class="tr" x="399.1" y="531.3" text-anchor="middle">91</text>
<text class="tr" x="452.5" y="531.3" text-anchor="middle">7</text>
<text class="tr" x="505.9" y="531.3" text-anchor="middle">—</text>
<text class="tr" x="559.4" y="531.3" text-anchor="middle">—</text>
<text class="tr" x="612.7" y="531.3" text-anchor="middle">—</text>
<text class="tr" x="665.4" y="531.3" text-anchor="middle">—</text>
<text class="tr" x="720.2" y="531.3" text-anchor="middle">—</text>
<text class="tr" x="773.1" y="531.3" text-anchor="middle">—</text>
<text class="tb" x="24.4" y="548.3" text-anchor="start">C 05 2</text>
<text class="tb" x="78.1" y="548.3" text-anchor="start">S05</text>
<text class="tb" x="108.8" y="548.3" text-anchor="start">M05</text>
<text class="tr" x="185.4" y="548.3" text-anchor="middle">121</text>
<text class="tr" x="238.7" y="548.3" text-anchor="middle">145.5</text>
<text class="tr" x="292.1" y="548.3" text-anchor="middle">142.5</text>
<text class="tr" x="345.6" y="548.3" text-anchor="middle">332</text>
<text class="tr" x="399.1" y="548.3" text-anchor="middle">95</text>
<text class="tr" x="452.5" y="548.3" text-anchor="middle">8</text>
<text class="tr" x="505.9" y="548.3" text-anchor="middle">398</text>
<text class="tr" x="559.4" y="548.3" text-anchor="middle">10</text>
<text class="tr" x="612.7" y="548.3" text-anchor="middle">96</text>
<text class="tr" x="665.4" y="548.3" text-anchor="middle">119</text>
<text class="tr" x="720.2" y="548.3" text-anchor="middle">116</text>
<text class="tr" x="773.1" y="548.3" text-anchor="middle">95</text>
<text class="tb" x="24.4" y="565.5" text-anchor="start">C 05 2</text>
<text class="tb" x="78.1" y="565.5" text-anchor="start">S1</text>
<text class="tb" x="108.8" y="565.5" text-anchor="start">M1S</text>
<text class="tr" x="185.4" y="565.5" text-anchor="middle">138</text>
<text class="tr" x="238.7" y="565.5" text-anchor="middle">154</text>
<text class="tr" x="292.1" y="565.5" text-anchor="middle">151</text>
<text class="tr" x="345.6" y="565.5" text-anchor="middle">337</text>
<text class="tr" x="399.1" y="565.5" text-anchor="middle">108</text>
<text class="tr" x="452.5" y="565.5" text-anchor="middle">9</text>
<text class="tr" x="505.9" y="565.5" text-anchor="middle">400</text>
<text class="tr" x="559.4" y="565.5" text-anchor="middle">12</text>
<text class="tr" x="612.7" y="565.5" text-anchor="middle">103</text>
<text class="tr" x="665.4" y="565.5" text-anchor="middle">132</text>
<text class="tr" x="720.2" y="565.5" text-anchor="middle">124</text>
<text class="tr" x="773.1" y="565.5" text-anchor="middle">108</text>
<text class="tb" x="24.4" y="583.0" text-anchor="start">C 05 2</text>
<text class="tb" x="78.1" y="583.0" text-anchor="start">S1</text>
<text class="tb" x="108.8" y="583.0" text-anchor="start">M1L</text>
<text class="tr" x="185.4" y="583.0" text-anchor="middle">138</text>
<text class="tr" x="238.7" y="583.0" text-anchor="middle">154</text>
<text class="tr" x="292.1" y="583.0" text-anchor="middle">151</text>
<text class="tr" x="345.6" y="583.0" text-anchor="middle">360.5</text>
<text class="tr" x="399.1" y="583.0" text-anchor="middle">108</text>
<text class="tr" x="452.5" y="583.0" text-anchor="middle">11</text>
<text class="tr" x="505.9" y="583.0" text-anchor="middle">423</text>
<text class="tr" x="559.4" y="583.0" text-anchor="middle">13</text>
<text class="tr" x="612.7" y="583.0" text-anchor="middle">103</text>
<text class="tr" x="665.4" y="583.0" text-anchor="middle">132</text>
<text class="tr" x="720.2" y="583.0" text-anchor="middle">124</text>
<text class="tr" x="773.1" y="583.0" text-anchor="middle">108</text>
<path class="g2" d="M43.5,496.3 H35.5 Q34,496.3 34,498.3 Q34,500.4 35.5,500.4 H43.5 M43.9,506 V494.5 L45.5,493 V490 Q45.5,488 47.5,488 H61.9 V510 H42.8 Q42.2,510 42.2,511 Q42.2,512 42.8,512 H61.9 V510 M43.9,506 L42.6,509.8 M51.6,486.5 V509.8 M51.6,486.5 H61.9 V488"/>
<path class="g3" d="M86.5,486.5 V512 M86.5,489 L93.8,490.6 V506.9 L87.5,512 M89.3,490 V509.5 M91.6,491 V507"/>
<path class="gl" d="M117.8,490.3 H134.5 V507.2 H117.8 Z M120.5,494 H132 V503 H120.5 Z M134.5,488.4 H141.5 Q143.9,488.4 143.9,491 V505.2 Q143.9,507.7 141.5,507.7 H134.5 M139.7,488.4 V507.7 M134.5,488.4 V490.3"/>
</g>
</svg>
</body></html>
